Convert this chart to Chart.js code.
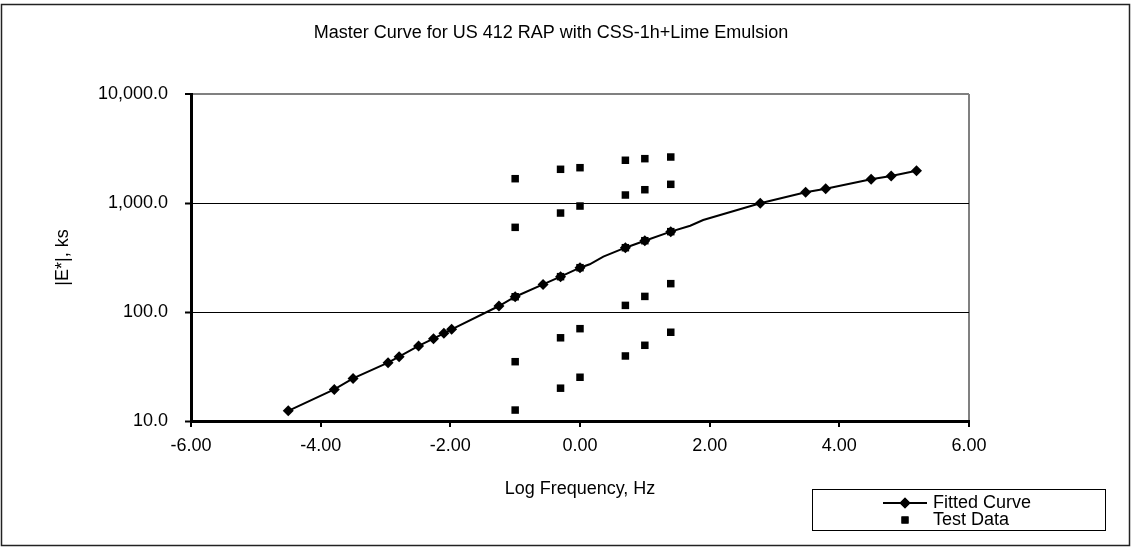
<!DOCTYPE html>
<html>
<head>
<meta charset="utf-8">
<script src="https://cdn.jsdelivr.net/npm/chart.js@4.4.1/dist/chart.umd.min.js"></script>
<style>
  html, body { margin: 0; padding: 0; background: #fff; }
  #chart { display: block; }
</style>
</head>
<body>
<canvas id="chart" width="1133" height="548"></canvas>
<script>
// Fitted master curve (log frequency, |E*| in ksi); some vertices are bends without a marker
const fitFreq    = [-4.50, -3.79, -3.50, -2.96, -2.79, -2.49, -2.26, -2.10, -1.98, -1.25, -1.00, -0.57, -0.30, 0.00, 0.15, 0.36, 0.70, 1.00, 1.40, 1.70, 1.90, 2.78, 3.48, 3.79, 4.49, 4.80, 5.19];
const fitModulus = [12.4, 19.5, 24.6, 34.3, 38.9, 48.8, 56.9, 63.7, 69.4, 113.5, 138, 179, 211, 255, 274, 322, 389, 451, 546, 619, 698, 994, 1253, 1353, 1649, 1770, 1977];
const fitMarked  = [1, 1, 1, 1, 1, 1, 1, 1, 1, 1, 1, 1, 1, 1, 0, 0, 1, 1, 1, 0, 0, 1, 1, 1, 1, 1, 1];

// Test data: five temperatures measured at six frequencies
const testFreq = [-1.00, -0.30, 0.00, 0.70, 1.00, 1.40];
const testModulus = [
  [1671, 2038, 2108, 2466, 2551, 2642],
  [598, 809, 938, 1184, 1324, 1484],
  [138, 211, 255, 389, 451, 546],
  [35, 58, 70.3, 115, 139, 182],
  [12.6, 20, 25.2, 39.5, 49.5, 65.2],
];

const xTicks = [-6, -4, -2, 0, 2, 4, 6];
const yTicks = [10, 100, 1000, 10000];

const TITLE = 'Master Curve for US 412 RAP with CSS-1h+Lime Emulsion';
const FONT = "'Liberation Sans', Arial, sans-serif";

Chart.defaults.font.family = FONT;
Chart.defaults.font.size = 18;
Chart.defaults.color = '#000';

const fitPoints = fitFreq.map((x, i) => ({ x, y: fitModulus[i] }));
const testPoints = [];
testModulus.forEach(row => row.forEach((y, i) => testPoints.push({ x: testFreq[i], y })));

// Page frame, title and the boxed legend in the lower right
const framePlugin = {
  id: 'frame',
  beforeDraw(chart) {
    const ctx = chart.ctx;
    ctx.save();
    ctx.fillStyle = '#fff';
    ctx.fillRect(0, 0, chart.width, chart.height);
    ctx.restore();
  },
  afterDraw(chart) {
    const ctx = chart.ctx;
    ctx.save();
    ctx.strokeStyle = '#222';
    ctx.lineWidth = 1.5;
    ctx.strokeRect(1.5, 4.5, 1128, 541);

    ctx.fillStyle = '#000';
    ctx.font = `18px ${FONT}`;
    ctx.textAlign = 'center';
    ctx.textBaseline = 'middle';
    ctx.fillText(TITLE, 551, 33);

    // legend
    ctx.lineWidth = 1;
    ctx.strokeStyle = '#000';
    ctx.strokeRect(812.5, 489.5, 293, 41);
    const rows = [503, 520];
    chart.data.datasets.forEach((ds, i) => {
      const y = rows[i];
      if (ds.showLine) {
        ctx.beginPath();
        ctx.moveTo(883, y);
        ctx.lineTo(927, y);
        ctx.lineWidth = 2;
        ctx.strokeStyle = '#000';
        ctx.stroke();
      }
      Chart.helpers.drawPoint(ctx, {
        pointStyle: ds.pointStyle,
        radius: ds.legendRadius,
        borderWidth: 0,
      }, 905, y);
      ctx.fillStyle = '#000';
      ctx.fill();
      ctx.textAlign = 'left';
      ctx.fillText(ds.label, 933, y);
    });
    ctx.restore();
  },
};

new Chart(document.getElementById('chart'), {
  type: 'scatter',
  data: {
    datasets: [
      {
        label: 'Fitted Curve',
        data: fitPoints,
        showLine: true,
        borderColor: '#000',
        borderWidth: 2,
        backgroundColor: '#000',
        pointStyle: 'rectRot',
        pointRadius: (c) => (fitMarked[c.dataIndex] ? 5.5 : 0),
        pointBorderWidth: 0,
        legendRadius: 5.5,
        tension: 0,
      },
      {
        label: 'Test Data',
        data: testPoints,
        showLine: false,
        borderColor: '#000',
        backgroundColor: '#000',
        pointStyle: 'rect',
        pointRadius: 5.3,
        pointBorderWidth: 0,
        legendRadius: 5,
      },
    ],
  },
  options: {
    responsive: false,
    animation: false,
    layout: { padding: { top: 94, right: 164, left: 0, bottom: 0 } },
    plugins: {
      legend: { display: false },
      tooltip: { enabled: false },
      title: { display: false },
    },
    scales: {
      x: {
        type: 'linear',
        min: -6,
        max: 6,
        afterFit: (scale) => { scale.height = 127; },
        afterBuildTicks: (scale) => { scale.ticks = xTicks.map(v => ({ value: v })); },
        ticks: {
          padding: 8,
          maxRotation: 0,
          callback: (v) => Number(v).toFixed(2),
        },
        grid: {
          color: (c) => (c.tick && c.tick.value === 6 ? '#808080' : 'rgba(0,0,0,0)'),
          lineWidth: 2,
          tickColor: '#000',
          tickWidth: 2,
          tickLength: 6,
        },
        border: { display: true, color: '#000', width: 3 },
        title: {
          display: true,
          text: 'Log Frequency, Hz',
          font: { size: 18 },
          padding: { top: 0, bottom: 48 },
        },
      },
      y: {
        type: 'logarithmic',
        min: 10,
        max: 10000,
        afterFit: (scale) => { scale.width = 191; },
        afterBuildTicks: (scale) => { scale.ticks = yTicks.map(v => ({ value: v })); },
        ticks: {
          padding: 17,
          callback: (v) => Number(v).toLocaleString('en-US', { minimumFractionDigits: 1, maximumFractionDigits: 1 }),
        },
        grid: {
          color: (c) => (c.tick && c.tick.value === 10000 ? '#808080' : '#000'),
          lineWidth: (c) => (c.tick && c.tick.value === 10000 ? 2 : 1),
          tickColor: '#000',
          tickWidth: 2,
          tickLength: 6,
        },
        border: { display: true, color: '#000', width: 3 },
        title: {
          display: true,
          text: '|E*|, ks',
          font: { size: 18 },
          padding: { top: 52, bottom: 0 },
        },
      },
    },
  },
  plugins: [framePlugin],
});
</script>
</body>
</html>
